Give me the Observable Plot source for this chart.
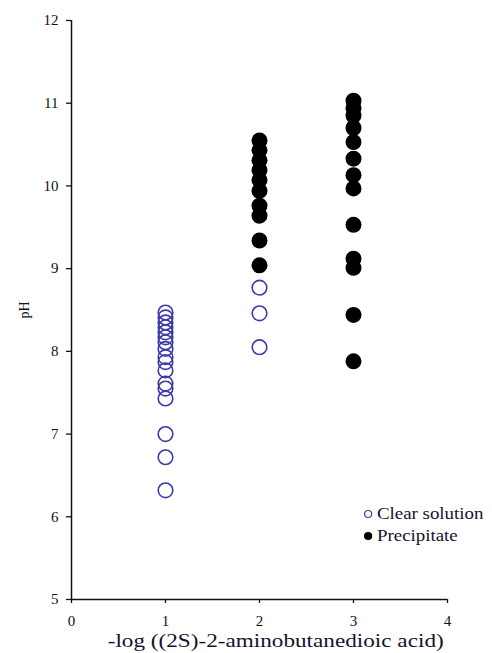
<!DOCTYPE html>
<html><head><meta charset="utf-8">
<script src="https://cdn.jsdelivr.net/npm/d3@7"></script>
<script src="https://cdn.jsdelivr.net/npm/@observablehq/plot@0.6"></script>
<style>
body{margin:0;background:#fff;}
#wrap{position:relative;width:492px;height:653px;font-family:"Times New Roman","Liberation Serif","DejaVu Serif","Noto Serif",serif;}
#legend{position:absolute;left:364px;top:503px;font-size:16px;color:#1a1030;line-height:22px;transform:scaleX(1.18);transform-origin:left top;}
#legend div{display:flex;align-items:center;white-space:nowrap;}
#legend span.m{display:inline-block;width:7px;height:8px;border-radius:50%;margin-right:4px;box-sizing:border-box;}
#xt{position:absolute;left:0;width:492px;top:630px;text-align:center;font-size:19px;line-height:22px;color:#1a1030;white-space:nowrap;}
#xt span{display:inline-block;transform:scaleX(1.22);transform-origin:center;margin-left:60px;}
svg text{font-family:"Times New Roman","Liberation Serif","DejaVu Serif","Noto Serif",serif;}
</style></head>
<body><div id="wrap"><div id="legend"></div><div id="xt"><span></span></div></div>
<script>
const seriesNames = ["Clear solution", "Precipitate"];
const xLabel = "-log ((2S)-2-aminobutanedioic acid)";
const yLabel = "pH";
const xTicks = [0, 1, 2, 3, 4];
const yTicks = [5, 6, 7, 8, 9, 10, 11, 12];

// Clear solution (open circles)
const clearX1 = 1;
const clearY1 = [6.32, 6.72, 7.0, 7.43, 7.55, 7.61, 7.77, 7.87, 7.93, 8.03, 8.11, 8.17, 8.23, 8.29, 8.35, 8.41, 8.47];
const clearX2 = 2;
const clearY2 = [8.05, 8.46, 8.77];

// Precipitate (filled circles)
const precX2 = 2;
const precY2 = [9.04, 9.34, 9.64, 9.76, 9.94, 10.07, 10.19, 10.31, 10.43, 10.55];
const precX3 = 3;
const precY3 = [7.88, 8.44, 9.01, 9.12, 9.53, 9.97, 10.13, 10.33, 10.53, 10.7, 10.85, 10.94, 11.03];

const clear = [
  ...clearY1.map(y => ({x: clearX1, y})),
  ...clearY2.map(y => ({x: clearX2, y}))
];
const prec = [
  ...precY2.map(y => ({x: precX2, y})),
  ...precY3.map(y => ({x: precX3, y}))
];

const blue = "#3a3aa8";

const chart = Plot.plot({
  width: 492,
  height: 653,
  marginLeft: 71,
  marginRight: 45,
  marginTop: 20,
  marginBottom: 54,
  style: {fontFamily: "'Times New Roman', 'Liberation Serif', 'DejaVu Serif', serif", fontSize: "14px", color: "#111", background: "#fff"},
  x: {domain: [0, 4]},
  y: {domain: [5, 12]},
  marks: [
    Plot.axisX({ticks: xTicks, tickSize: 4, tickPadding: 12, tickFormat: d => String(d), label: null, fontSize: 15, stroke: "#111", strokeWidth: 1.3}),
    Plot.axisY({ticks: yTicks, tickSize: 5, tickPadding: 8, tickFormat: d => String(d), label: null, fontSize: 15, stroke: "#111", strokeWidth: 1.3}),
    Plot.axisY({ticks: [], label: yLabel, labelAnchor: "center", labelArrow: "none", labelOffset: 52, fontSize: 14, tickSize: 0}),
    Plot.ruleX([0], {stroke: "#111", strokeWidth: 1.5}),
    Plot.ruleY([5], {stroke: "#111", strokeWidth: 1.5}),
    Plot.dot(clear, {x: "x", y: "y", r: 7.3, stroke: blue, strokeWidth: 1.6, fill: "white", fillOpacity: 0}),
    Plot.dot(prec, {x: "x", y: "y", r: 8, fill: "#000", stroke: "none"})
  ]
});
const wrap = document.getElementById("wrap");
wrap.prepend(chart);

document.querySelector("#xt span").textContent = xLabel;

const legend = document.getElementById("legend");
const styles = [`border:1.5px solid ${blue};background:#fff;`, `background:#000;`];
seriesNames.forEach((n, i) => {
  const d = document.createElement("div");
  d.innerHTML = `<span class="m" style="${styles[i]}"></span>${n}`;
  legend.appendChild(d);
});
</script>
</body></html>
